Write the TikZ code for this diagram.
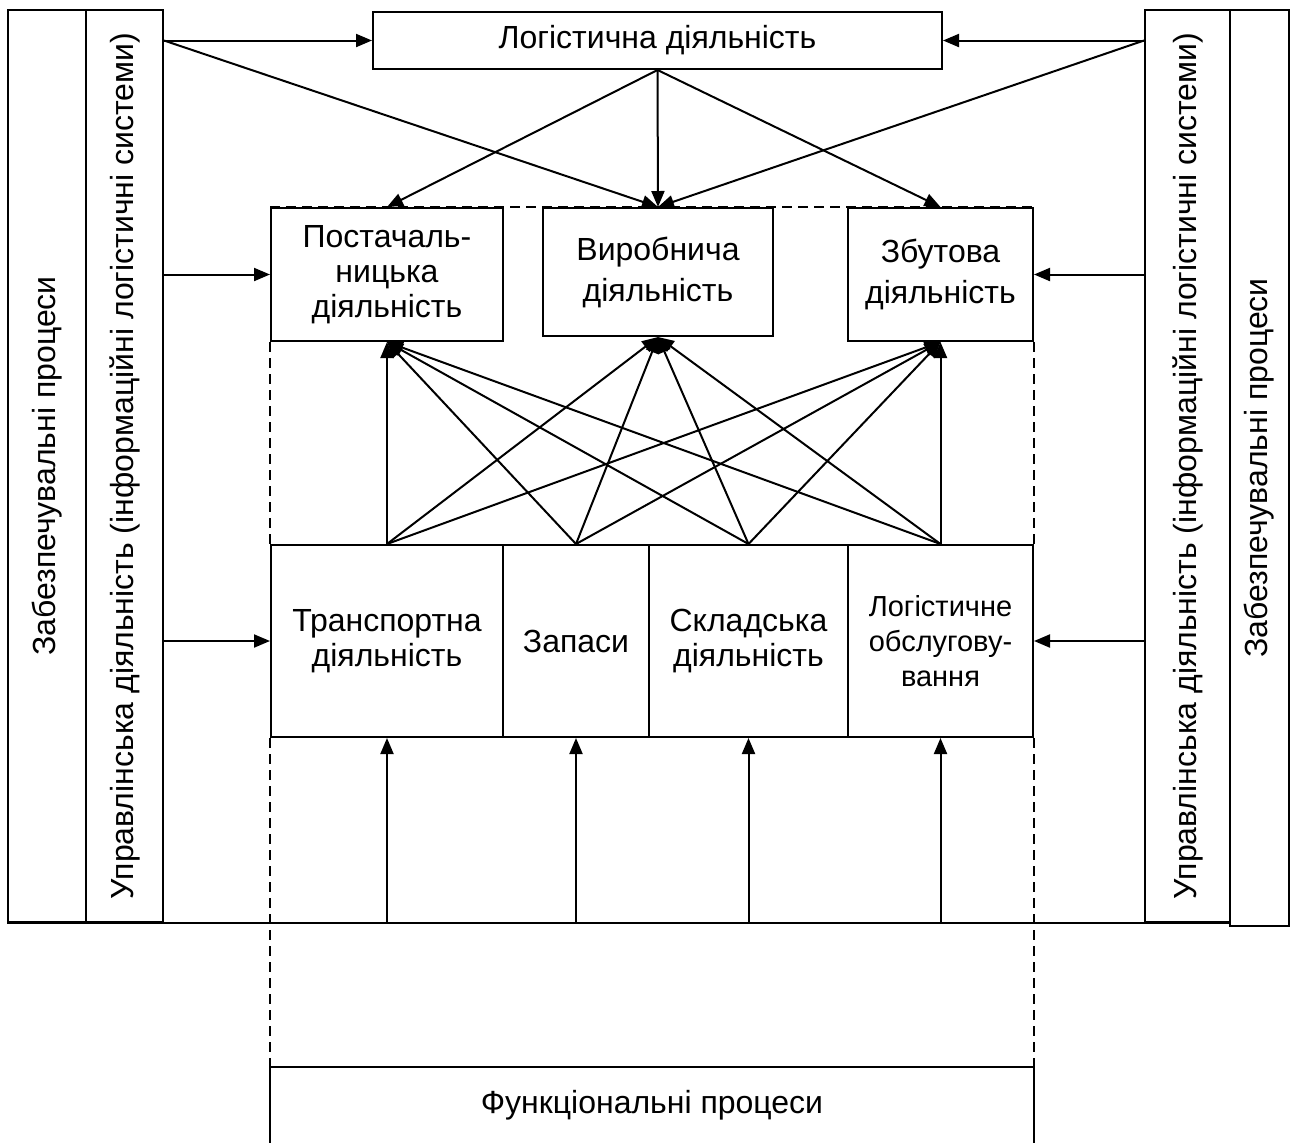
\documentclass[tikz,border=0pt]{standalone}
\usepackage{fontspec}
\setmainfont{Liberation Sans}
\usepackage{tikz}
\usetikzlibrary{arrows.meta}

\begin{document}
\begin{tikzpicture}[x=0.5pt,y=-0.5pt,
                    line width=1pt,
                    txt/.style={inner sep=0pt, align=center,
                                font=\fontsize{16}{17.5}\selectfont},
                    box/.style={txt, draw, rectangle},
                    arr/.style={-{Triangle[length=8pt,width=6.5pt]}},
                    dsh/.style={dash pattern=on 5pt off 3pt}]
 \useasboundingbox (0,0) rectangle (1291,1142);

 \node[box, minimum width=39pt, minimum height=456pt] (zabl) at (47,466) {};
 \node[box, minimum width=38.5pt, minimum height=456pt] (uprl) at (124.5,466) {};
 \node[box, minimum width=42.5pt, minimum height=456pt] (uprr) at (1187.5,466) {};
 \node[box, minimum width=29.5pt, minimum height=458pt] (zabr) at (1259.5,468) {};
 \node[txt, rotate=90] (zabltxt) at (zabl) {Забезпечувальні процеси};
 \node[txt, rotate=90] (upritxt) at (uprl) {Управлінська діяльність (інформаційні логістичні системи)};
 \node[txt, rotate=90] (uprrtxt) at (uprr) {Управлінська діяльність (інформаційні логістичні системи)};
 \node[txt, rotate=90] (zabrtxt) at (zabr) {Забезпечувальні процеси};

 \node[box, minimum width=284.5pt, minimum height=28.5pt] (logact) at (657.5,40.5) {Логістична діяльність};

 \node[box, minimum width=116pt, minimum height=66.5pt] (post) at (387,274.5) {Постачаль-\\ницька\\діяльність};
 \node[box, minimum width=115pt, minimum height=64pt] (vyr) at (658,272) {Виробнича\\[3pt]діяльність};
 \node[box, minimum width=92.5pt, minimum height=66.5pt] (zbut) at (940.5,274.5) {Збутова\\[3pt]діяльність};

 \node[box, minimum width=116pt, minimum height=96pt] (trans) at (387,641) {Транспортна\\діяльність};
 \node[box, minimum width=73pt, minimum height=96pt] (zap) at (576,641) {Запаси};
 \node[box, minimum width=99.5pt, minimum height=96pt] (sklad) at (748.5,641) {Складська\\діяльність};
 \node[box, minimum width=92.5pt, minimum height=96pt,
       font=\fontsize{14.5}{17.5}\selectfont] (obsl) at (940.5,641) {Логістичне\\обслугову-\\вання};

 \node[txt, minimum width=381pt, minimum height=37pt] (func) at (652,1105) {Функціональні процеси};
 \draw (func.south west) -- (func.north west) -- (func.north east) -- (func.south east);

 \draw (zabl.south west) -- (uprr.south east);

 \draw[arr] (uprl.east |- logact.west) -- (logact.west);
 \draw[arr] (uprr.west |- logact.east) -- (logact.east);
 \draw[arr] (uprl.east |- logact.west) -- (vyr.north);
 \draw[arr] (uprr.west |- logact.east) -- (vyr.north);
 \draw[arr] (uprl.east |- post.west) -- (post.west);
 \draw[arr] (uprr.west |- zbut.east) -- (zbut.east);
 \draw[arr] (uprl.east |- trans.west) -- (trans.west);
 \draw[arr] (uprr.west |- obsl.east) -- (obsl.east);

 \foreach \t in {post,vyr,zbut}
   \draw[arr] (logact.south) -- (\t.north);

 \foreach \s in {trans,zap,sklad,obsl}
   {
   \foreach \t in {post,vyr,zbut}
     \draw[arr] (\s.north) -- (\t.south);
   \draw[arr] (\s |- zabl.south) -- (\s.south);
   }

 \draw[dsh] (post.north west) -- (zbut.north east);
 \draw[dsh] (post.south west) -- (trans.north west);
 \draw[dsh] (zbut.south east) -- (obsl.north east);
 \draw[dsh] (trans.south west) -- (func.north west);
 \draw[dsh] (obsl.south east) -- (func.north east);
\end{tikzpicture}
\end{document}
